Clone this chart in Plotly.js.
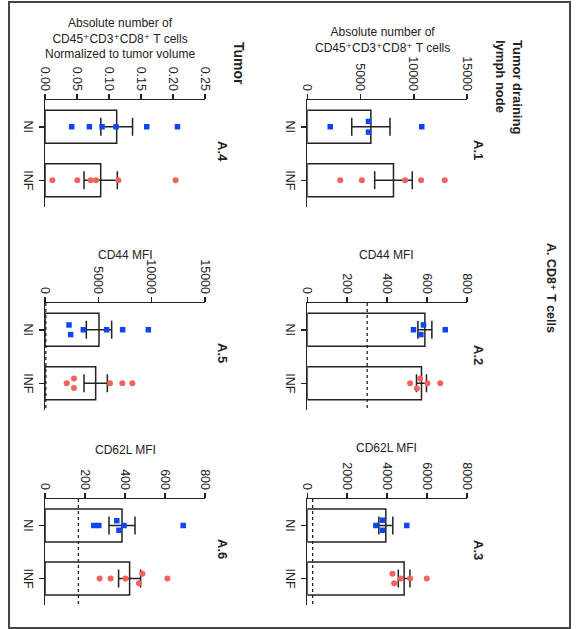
<!DOCTYPE html>
<html><head><meta charset="utf-8">
<script src="https://cdn.plot.ly/plotly-3.0.1.min.js"></script>
<style>
html,body{margin:0;padding:0;width:581px;height:629px;overflow:hidden;background:#fff;}
#wrap{position:absolute;left:0;top:0;width:629px;height:581px;transform-origin:0 0;transform:translate(581px,0) rotate(90deg);}
#chart{width:629px;height:581px;}
</style></head><body>
<div id="wrap"><div id="chart"></div></div>
<script>
// ---------- data ----------
const categories = ['NI', 'INF'];
const panelLabels = ['A.1', 'A.2', 'A.3', 'A.4', 'A.5', 'A.6'];
const axisTitles = [
  'Absolute number of<br>CD45⁺CD3⁺CD8⁺ T cells',
  'CD44 MFI',
  'CD62L MFI',
  'Absolute number of<br>CD45⁺CD3⁺CD8⁺ T cells<br>Normalized to tumor volume',
  'CD44 MFI',
  'CD62L MFI'
];
const axisMax = [15000, 800, 8000, 0.25, 15000, 800];
const axisStep = [5000, 200, 2000, 0.05, 5000, 200];
const axisFormat = ['d', 'd', 'd', '.2f', 'd', 'd'];
const thresholds = [null, 300, 267, null, 80, 167];
const sectionTitles = ['Tumor draining<br>lymph node', 'Tumor'];
const mainTitle = 'A. CD8⁺ T cells';

// A.1 Tumor draining lymph node – absolute number
const a1_mean = [5970, 8094], a1_sem = [1795, 1765];
const a1_ni = [2156, 5750, 5750, 10750], a1_ni_jitter = [0, -0.1, 0.1, 0];
const a1_inf = [3094, 5125, 9190, 10690, 12910], a1_inf_jitter = [0, 0, 0, 0, 0];
// A.2 CD44 MFI (lymph node)
const a2_mean = [589, 572], a2_sem = [35, 25];
const a2_ni = [532, 582, 569, 691], a2_ni_jitter = [0, -0.09, 0.09, 0];
const a2_inf = [515, 565, 602, 549, 666], a2_inf_jitter = [0, -0.09, 0, 0.1, 0];
// A.3 CD62L MFI (lymph node)
const a3_mean = [3933, 4850], a3_sem = [350, 292];
const a3_ni = [3433, 3767, 3767, 4983], a3_ni_jitter = [0, -0.1, 0.09, 0];
const a3_inf = [4267, 4350, 4683, 5150, 5983], a3_inf_jitter = [-0.09, 0.09, 0, 0, 0];
// A.4 Tumor – normalized absolute number
const a4_mean = [0.112, 0.087], a4_sem = [0.0248, 0.026];
const a4_ni = [0.0417, 0.0693, 0.0891, 0.111, 0.159, 0.207], a4_ni_jitter = [0, 0, 0, 0, 0, 0];
const a4_inf = [0.0115, 0.0505, 0.0714, 0.0797, 0.1146, 0.204], a4_inf_jitter = [0, 0, 0, 0, 0, 0];
// A.5 CD44 MFI (tumor)
const a5_mean = [5062, 4750], a5_sem = [1188, 1094];
const a5_ni = [2250, 2406, 3594, 5781, 7281, 9688], a5_ni_jitter = [-0.09, 0.09, 0, 0, 0, 0];
const a5_inf = [2031, 2719, 2719, 6094, 7250, 8188], a5_inf_jitter = [0, -0.09, 0.09, 0, 0, 0];
// A.6 CD62L MFI (tumor)
const a6_mean = [385, 423], a6_sem = [65, 55];
const a6_ni = [244, 269, 359, 395, 370, 691], a6_ni_jitter = [0, 0, -0.09, 0, 0.09, 0];
const a6_inf = [273, 328, 402, 487, 470, 612], a6_inf_jitter = [0, 0, 0, -0.09, 0.09, 0];

const means = [a1_mean, a2_mean, a3_mean, a4_mean, a5_mean, a6_mean];
const sems = [a1_sem, a2_sem, a3_sem, a4_sem, a5_sem, a6_sem];
const niVals = [a1_ni, a2_ni, a3_ni, a4_ni, a5_ni, a6_ni];
const niJit = [a1_ni_jitter, a2_ni_jitter, a3_ni_jitter, a4_ni_jitter, a5_ni_jitter, a6_ni_jitter];
const infVals = [a1_inf, a2_inf, a3_inf, a4_inf, a5_inf, a6_inf];
const infJit = [a1_inf_jitter, a2_inf_jitter, a3_inf_jitter, a4_inf_jitter, a5_inf_jitter, a6_inf_jitter];

// ---------- layout geometry (unrotated frame 629 x 581, then rotated 90° cw) ----------
const W = 629, H = 581;
const px = u => u / W;
const py = v => 1 - v / H;
const colU = [[100, 207], [303, 410], [499, 605]];
const rowV = [[114, 273.7], [376, 536]];
const FONT = 'Liberation Sans, Arial, Helvetica, DejaVu Sans, sans-serif';
const INK = '#222';
const BLUE = '#0f45f2';
const RED = '#f4625b';

const traces = [];
const layout = {
  width: W, height: H,
  margin: {l: 0, r: 0, t: 0, b: 0},
  paper_bgcolor: '#fff', plot_bgcolor: 'rgba(0,0,0,0)',
  showlegend: false, hovermode: false,
  font: {family: FONT, color: INK, size: 12},
  annotations: [], shapes: []
};

for (let i = 0; i < 6; i++) {
  const sfx = i === 0 ? '' : String(i + 1);
  const xa = 'x' + sfx, ya = 'y' + sfx;
  const col = colU[i % 3], row = rowV[Math.floor(i / 3)];
  const ticks = [];
  for (let k = 0; k * axisStep[i] <= axisMax[i] * 1.0001; k++) ticks.push(Math.round(k * axisStep[i] * 1e6) / 1e6);

  layout['xaxis' + sfx] = {
    domain: [px(col[0]), px(col[1])], anchor: ya, range: [-0.5, 1.5],
    tickmode: 'array', tickvals: [0, 1], ticktext: categories,
    showline: true, linewidth: 1.5, linecolor: INK,
    ticks: 'outside', ticklen: 5, tickwidth: 1.5, tickcolor: INK,
    showgrid: false, zeroline: false, fixedrange: true,
    tickfont: {size: 12.5, family: FONT, color: INK}
  };
  layout['yaxis' + sfx] = {
    domain: [py(row[1]), py(row[0])], anchor: xa, range: [0, axisMax[i]],
    tickmode: 'array', tickvals: ticks, tickformat: axisFormat[i],
    showline: true, linewidth: 1.5, linecolor: INK,
    ticks: 'outside', ticklen: 5, tickwidth: 1.5, tickcolor: INK,
    showgrid: false, zeroline: false, fixedrange: true,
    tickfont: {size: 12.5, family: FONT, color: INK}
  };

  traces.push({
    type: 'bar', x: [0, 1], y: means[i], xaxis: xa, yaxis: ya, width: 0.62,
    marker: {color: 'rgba(255,255,255,0)', line: {color: INK, width: 1.5}},
    error_y: {type: 'data', array: sems[i], visible: true, color: INK, thickness: 1.5, width: 9}
  });
  traces.push({
    type: 'scatter', mode: 'markers', xaxis: xa, yaxis: ya, cliponaxis: false,
    x: niJit[i].map(j => 0 + j), y: niVals[i],
    marker: {symbol: 'square', size: 5.5, color: BLUE}
  });
  traces.push({
    type: 'scatter', mode: 'markers', xaxis: xa, yaxis: ya, cliponaxis: false,
    x: infJit[i].map(j => 1 + j), y: infVals[i],
    marker: {symbol: 'circle', size: 6, color: RED}
  });

  if (thresholds[i] !== null) {
    layout.shapes.push({
      type: 'line', xref: xa + ' domain', yref: ya, x0: 0, x1: 1,
      y0: thresholds[i], y1: thresholds[i],
      line: {color: INK, width: 1.3, dash: 'dot'}
    });
  }
}

// axis titles (rotated like y-axis titles)
const titleU = [40, 255, 448, 38, 255, 450];
const titleV = [199, 195, 194, 461, 456, 456];
for (let i = 0; i < 6; i++) {
  layout.annotations.push({
    xref: 'paper', yref: 'paper', x: px(titleU[i]), y: py(titleV[i]),
    text: axisTitles[i], showarrow: false, textangle: -90,
    xanchor: 'center', yanchor: 'middle', align: 'center',
    font: {size: 12, family: FONT, color: INK}
  });
}
// panel labels
const labelU = [150, 355, 550, 151, 353, 549];
const labelV = [103, 103, 103, 358.5, 358.5, 358.5];
for (let i = 0; i < 6; i++) {
  layout.annotations.push({
    xref: 'paper', yref: 'paper', x: px(labelU[i]), y: py(labelV[i]),
    text: '<b>' + panelLabels[i] + '</b>', showarrow: false,
    xanchor: 'center', yanchor: 'middle', font: {size: 13, family: FONT, color: INK}
  });
}
// section titles
layout.annotations.push({
  xref: 'paper', yref: 'paper', x: px(38), y: py(72),
  text: '<b>' + sectionTitles[0] + '</b>', showarrow: false,
  xanchor: 'left', yanchor: 'middle', align: 'left', font: {size: 13, family: FONT, color: INK}
});
layout.annotations.push({
  xref: 'paper', yref: 'paper', x: px(40), y: py(342),
  text: '<b>' + sectionTitles[1] + '</b>', showarrow: false,
  xanchor: 'left', yanchor: 'middle', align: 'left', font: {size: 14, family: FONT, color: INK}
});
// main title
layout.annotations.push({
  xref: 'paper', yref: 'paper', x: px(288), y: py(30),
  text: '<b>' + mainTitle + '</b>', showarrow: false,
  xanchor: 'center', yanchor: 'middle', font: {size: 12.5, family: FONT, color: INK}
});
// frame
layout.shapes.push({
  type: 'rect', xref: 'paper', yref: 'paper',
  x0: px(2), x1: px(628), y0: py(572), y1: py(11),
  line: {color: '#444', width: 2}, fillcolor: 'rgba(0,0,0,0)'
});

Plotly.newPlot('chart', traces, layout, {staticPlot: true, displayModeBar: false});
</script>
</body></html>
